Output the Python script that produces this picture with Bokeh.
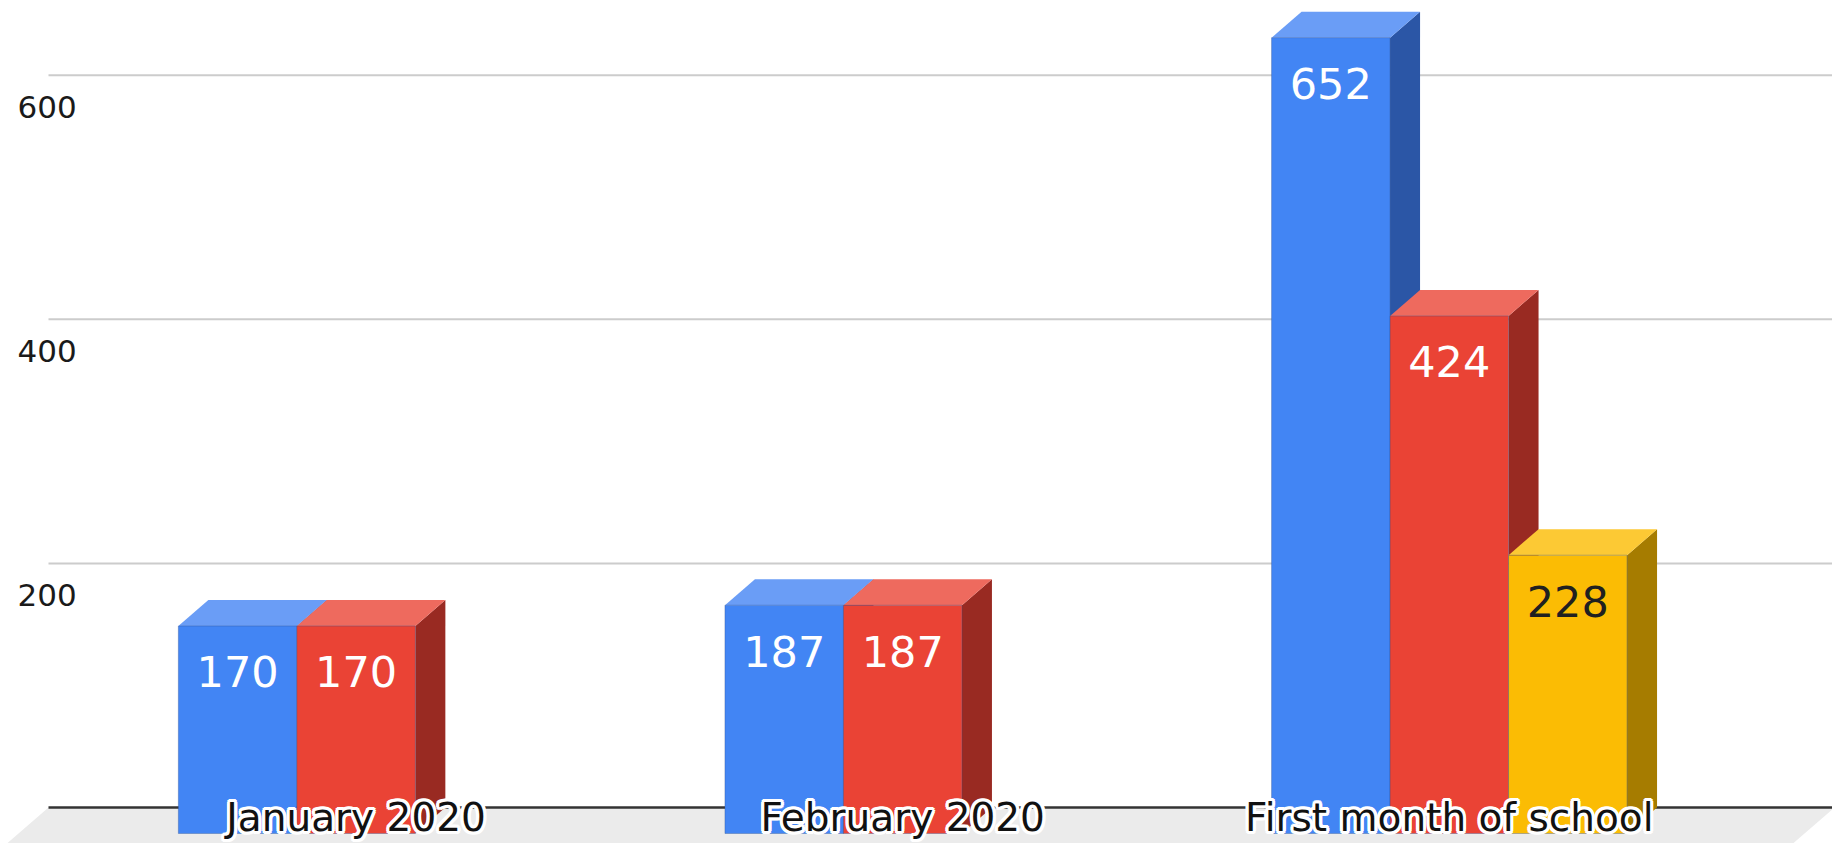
import math
from bokeh.plotting import figure
from bokeh.models import Range1d
from bokeh.core.properties import value
from bokeh.embed import file_html
from bokeh.resources import INLINE

# ---- data ----
categories = ["January 2020", "February 2020", "First month of school"]
series_a = [170, 187, 652]
series_b = [170, 187, 424]
series_c = [None, None, 228]
y_ticks = [200, 400, 600]
y_tick_labels = ["200", "400", "600"]

front_colors = ["#4285F4", "#EA4335", "#FBBC04"]
top_colors = ["#6A9DF6", "#EE6A5E", "#FCC934"]
side_colors = ["#2B56A6", "#992A22", "#A67C00"]
label_colors = ["#FFFFFF", "#FFFFFF", "#202020"]

# ---- geometry (pixel scales) ----
W, H = 1832, 843
pxx = 546.6          # px per category
pxy = 1.2206         # px per value unit
cat0_px = 385.6      # canvas x of first category (back plane)
zero_px = 807.0      # canvas y of value 0 (back plane)

xs = -cat0_px / pxx
xe = xs + W / pxx
ye = zero_px / pxy
ys = ye - H / pxy

bar_w = 118.5 / pxx
ddx = 30.0 / pxx
ddy = 26.0 / pxy
grid_x0 = xs + 48.0 / pxx

p = figure(width=W, height=H, x_range=Range1d(xs, xe), y_range=Range1d(ys, ye),
           output_backend="svg", toolbar_location=None,
           x_axis_location=None, y_axis_location=None,
           min_border=0, outline_line_color=None,
           background_fill_color="white", border_fill_color="white")
p.xgrid.visible = False
p.ygrid.visible = False

# floor
fr = xe + 2.0 / pxx
p.patch(x=[grid_x0, fr, fr - 1.6 * ddx, grid_x0 - 1.6 * ddx],
        y=[0, 0, -1.6 * ddy, -1.6 * ddy], fill_color="#EBEBEB", line_color=None)

# gridlines
p.segment(x0=[grid_x0] * len(y_ticks), x1=[xe] * len(y_ticks), y0=y_ticks, y1=y_ticks,
          line_color="#CCCCCC", line_width=2)
# baseline
p.segment(x0=[grid_x0], x1=[xe], y0=[0], y1=[0], line_color="#333333", line_width=2.5)

# tick labels
p.text(x=[xs + 17.0 / pxx] * len(y_ticks), y=[t - 32.0 / pxy for t in y_ticks],
       text=y_tick_labels, text_font=value("DejaVu Sans"), text_font_size="31px",
       text_color="#1A1A1A", text_align="left", text_baseline="alphabetic")

# bars
all_series = [series_a, series_b, series_c]
for j, ser in enumerate(all_series):
    fx, fy, sxs, sys_, txs, tys, lx, ly, lt = [], [], [], [], [], [], [], [], []
    for i, v in enumerate(ser):
        if v is None:
            continue
        c = i + (j - 1) * bar_w - ddx
        xl, xr = c - bar_w / 2, c + bar_w / 2
        fx.append(c)
        fy.append(v - ddy)
        txs.append([xl, xr, xr + ddx, xl + ddx])
        tys.append([v - ddy, v - ddy, v, v])
        sxs.append([xr, xr + ddx, xr + ddx, xr])
        sys_.append([v - ddy, v, 0, -ddy])
        lx.append(c)
        ly.append(v - ddy - 46.0 / pxy)
        lt.append(str(v))
    p.patches(xs=sxs, ys=sys_, fill_color=side_colors[j], line_color=None)
    p.patches(xs=txs, ys=tys, fill_color=top_colors[j], line_color=None)
    p.vbar(x=fx, width=bar_w, bottom=-ddy, top=fy, fill_color=front_colors[j],
           line_color="#2F4F8F", line_alpha=0.35, line_width=1)
    p.text(x=lx, y=ly, text=lt, text_font=value("DejaVu Sans"), text_font_size="43px",
           text_color=label_colors[j], text_align="center", text_baseline="middle")

# category labels with a white halo
cx = [i - ddx for i in range(len(categories))]
cy = [-10.0 / pxy] * len(categories)
for k in range(12):
    a = 2 * math.pi * k / 12
    p.text(x=cx, y=cy, text=categories, text_font=value("DejaVu Sans"), text_font_size="39px",
           text_color="white", text_align="center", text_baseline="alphabetic",
           x_offset=3.2 * math.cos(a), y_offset=3.2 * math.sin(a))
p.text(x=cx, y=cy, text=categories, text_font=value("DejaVu Sans"), text_font_size="39px",
       text_color="#111111", text_align="center", text_baseline="alphabetic")

open("out.html", "w").write(file_html(p, INLINE))
